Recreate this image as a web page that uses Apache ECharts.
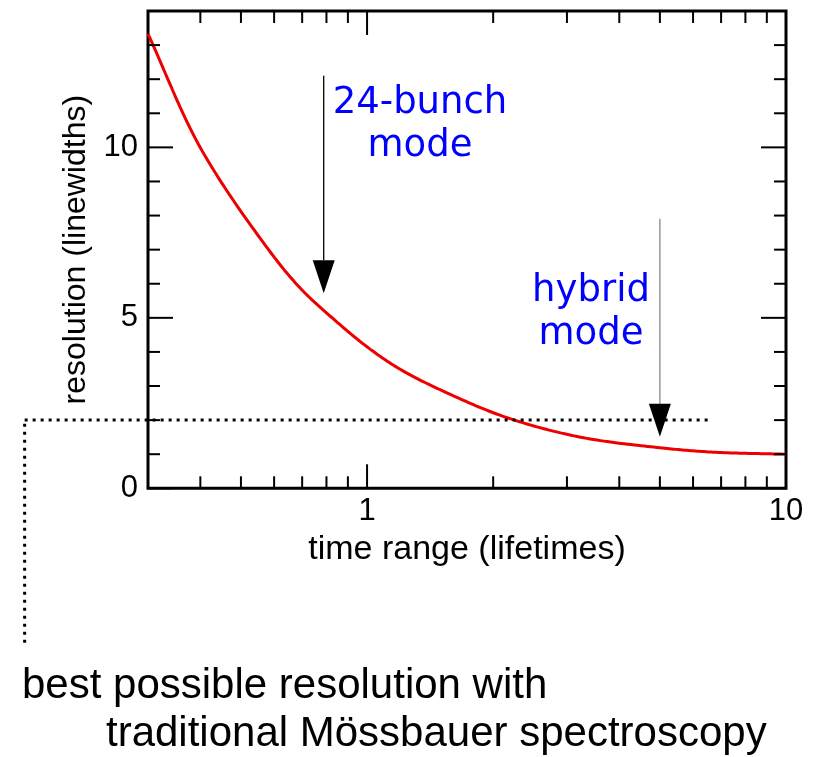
<!DOCTYPE html>
<html>
<head>
<meta charset="utf-8">
<script src="https://cdn.jsdelivr.net/npm/echarts@6/dist/echarts.min.js"></script>
<style>
html,body{margin:0;padding:0;background:#fff;}
#c{width:824px;height:757px;}
</style>
</head>
<body>
<div id="c"></div>
<script>
// ---- data ----
const timeRange = [0.3, 0.4, 0.577, 0.694, 0.8325, 1.0, 1.2, 1.55, 2.16, 3.23, 5.0, 6.7, 10];
const resolution = [13.33, 9.99, 7.06, 5.86, 4.96, 4.15, 3.49, 2.80, 2.07, 1.50, 1.19, 1.06, 1.0];
const bestLevelX = [0.1523, 0.1523, 6.52];
const bestLevelY = [-4.53, 2, 2];
const arrowX = [0.788, 5.0];
const arrowTop = [12.1, 7.91];
const arrowTip = [5.72, 1.51];
const xMajorTicks = [1, 10];
const xMinorTicks = [0.4, 0.5, 0.6, 0.7, 0.8, 0.9, 2, 3, 4, 5, 6, 7, 8, 9];
const yMajorTicks = [0, 5, 10];
const yMinorTicks = [1, 2, 3, 4, 6, 7, 8, 9, 11, 12, 13];
const X_MIN = 0.3, X_MAX = 10, Y_MIN = 0, Y_MAX = 14;

// ---- chart ----
const chart = echarts.init(document.getElementById('c'), null, {renderer: 'canvas'});

function xTickSeries(vals, len) {
  return {
    type: 'custom', silent: true, z: 5,
    data: vals.map(v => [v, Y_MIN]),
    encode: {x: 0, y: 1},
    renderItem: function (params, api) {
      const x = api.value(0);
      const pb = api.coord([x, Y_MIN]);
      const pt = api.coord([x, Y_MAX]);
      return {type: 'group', children: [
        {type: 'line', shape: {x1: pb[0], y1: pb[1], x2: pb[0], y2: pb[1] - len}, style: {stroke: '#000', lineWidth: 2}},
        {type: 'line', shape: {x1: pt[0], y1: pt[1], x2: pt[0], y2: pt[1] + len}, style: {stroke: '#000', lineWidth: 2}}
      ]};
    }
  };
}
function yTickSeries(vals, len) {
  return {
    type: 'custom', silent: true, z: 5,
    data: vals.map(v => [X_MIN, v]),
    encode: {x: 0, y: 1},
    renderItem: function (params, api) {
      const y = api.value(1);
      const pl = api.coord([X_MIN, y]);
      const pr = api.coord([X_MAX, y]);
      return {type: 'group', children: [
        {type: 'line', shape: {x1: pl[0], y1: pl[1], x2: pl[0] + len, y2: pl[1]}, style: {stroke: '#000', lineWidth: 2}},
        {type: 'line', shape: {x1: pr[0], y1: pr[1], x2: pr[0] - len, y2: pr[1]}, style: {stroke: '#000', lineWidth: 2}}
      ]};
    }
  };
}

// centripetal Catmull-Rom through pixel points (smooth curve without kinks)
function catmullRom(pts, steps) {
  const P = [[2 * pts[0][0] - pts[1][0], 2 * pts[0][1] - pts[1][1]]].concat(pts,
    [[2 * pts[pts.length - 1][0] - pts[pts.length - 2][0], 2 * pts[pts.length - 1][1] - pts[pts.length - 2][1]]]);
  const out = [];
  const d = (a, b) => Math.pow(Math.hypot(b[0] - a[0], b[1] - a[1]), 0.5) || 1e-6;
  const lerp = (a, b, ta, tb, t) => [(tb - t) / (tb - ta) * a[0] + (t - ta) / (tb - ta) * b[0], (tb - t) / (tb - ta) * a[1] + (t - ta) / (tb - ta) * b[1]];
  for (let i = 1; i < P.length - 2; i++) {
    const p0 = P[i - 1], p1 = P[i], p2 = P[i + 1], p3 = P[i + 2];
    const t0 = 0, t1 = t0 + d(p0, p1), t2 = t1 + d(p1, p2), t3 = t2 + d(p2, p3);
    for (let s = 0; s < steps; s++) {
      const t = t1 + (t2 - t1) * s / steps;
      const A1 = lerp(p0, p1, t0, t1, t), A2 = lerp(p1, p2, t1, t2, t), A3 = lerp(p2, p3, t2, t3, t);
      const B1 = lerp(A1, A2, t0, t2, t), B2 = lerp(A2, A3, t1, t3, t);
      out.push(lerp(B1, B2, t1, t2, t));
    }
  }
  out.push(pts[pts.length - 1]);
  return out;
}

const curveData = timeRange.map((x, i) => [x, resolution[i]]);
const arrowColors = ['#000000', '#888888'];
const arrowData = arrowX.map((x, i) => [x, arrowTop[i], arrowTip[i]]);
const bestData = bestLevelX.map((x, i) => [x, bestLevelY[i]]);

const option = {
  backgroundColor: '#ffffff',
  animation: false,
  grid: {left: 148, right: 38, top: 11, bottom: 268.7, show: true, borderColor: '#000', borderWidth: 3, backgroundColor: 'transparent'},
  xAxis: {
    type: 'log', logBase: 10, min: X_MIN, max: X_MAX,
    axisLine: {show: false}, axisTick: {show: false}, splitLine: {show: false}, minorTick: {show: false},
    axisLabel: {
      color: '#000', fontFamily: 'Liberation Sans', fontSize: 31, margin: 8,
      showMinLabel: true, showMaxLabel: true,
      formatter: function (v) {
        for (const t of xMajorTicks) { if (Math.abs(v - t) < 1e-6 * t) return String(t); }
        return '';
      }
    },
    name: 'time range (lifetimes)', nameLocation: 'middle', nameGap: 36,
    nameTextStyle: {color: '#000', fontFamily: 'Liberation Sans', fontSize: 34}
  },
  yAxis: {
    type: 'value', min: Y_MIN, max: Y_MAX, interval: 5,
    axisLine: {show: false}, axisTick: {show: false}, splitLine: {show: false},
    axisLabel: {
      color: '#000', fontFamily: 'Liberation Sans', fontSize: 31, margin: 10,
      formatter: function (v) { return yMajorTicks.indexOf(v) >= 0 ? String(v) : ''; }
    },
    name: 'resolution (linewidths)', nameLocation: 'middle', nameGap: 55,
    nameTextStyle: {color: '#000', fontFamily: 'Liberation Sans', fontSize: 32}
  },
  series: [
    xTickSeries(xMajorTicks, 24),
    xTickSeries(xMinorTicks, 12),
    yTickSeries(yMajorTicks, 25),
    yTickSeries(yMinorTicks, 12),
    {
      type: 'custom', name: 'resolution', z: 3, silent: true,
      data: curveData,
      encode: {x: 0, y: 1},
      renderItem: function (params, api) {
        if (params.dataIndex !== 0) return null;
        const pts = curveData.map(p => api.coord(p));
        return {
          type: 'polyline',
          shape: {points: catmullRom(pts, 24)},
          style: {stroke: '#ee0000', lineWidth: 3, fill: null, lineJoin: 'round'}
        };
      }
    },
    {
      // dotted "best possible" level; extends beyond the plot, so it is
      // placed with the axes' own scale (log x, linear y) extrapolated past the frame
      type: 'custom', name: 'best', z: 4, clip: false, silent: true,
      data: bestData,
      encode: {x: 0, y: 1},
      renderItem: function (params, api) {
        const i = params.dataIndex;
        if (i >= bestData.length - 1) return null;
        const a = api.coord([X_MIN, Y_MIN]);
        const b = api.coord([X_MAX, Y_MAX]);
        const l0 = Math.log10(X_MIN), l1 = Math.log10(X_MAX);
        const px = x => a[0] + (Math.log10(x) - l0) / (l1 - l0) * (b[0] - a[0]);
        const py = y => a[1] + (y - Y_MIN) / (Y_MAX - Y_MIN) * (b[1] - a[1]);
        const p = bestData[i], q = bestData[i + 1];
        return {
          type: 'line',
          shape: {x1: px(p[0]), y1: py(p[1]), x2: px(q[0]), y2: py(q[1])},
          style: {stroke: '#000', lineWidth: 3, lineDash: [3, 5], lineCap: 'butt'}
        };
      }
    },
    {
      type: 'custom', z: 6, silent: true,
      data: arrowData,
      encode: {x: 0, y: [1, 2]},
      renderItem: function (params, api) {
        const x = api.value(0);
        const p1 = api.coord([x, api.value(1)]);
        const p2 = api.coord([x, api.value(2)]);
        const hl = 33, hw = 11;
        const col = arrowColors[params.dataIndex];
        return {type: 'group', children: [
          {type: 'line', shape: {x1: p1[0], y1: p1[1], x2: p2[0], y2: p2[1] - hl}, style: {stroke: col, lineWidth: 1.3}},
          {type: 'polygon', shape: {points: [[p2[0] - hw, p2[1] - hl], [p2[0] + hw, p2[1] - hl], [p2[0], p2[1]]]}, style: {fill: '#000'}}
        ]};
      }
    }
  ],
  graphic: [
    {type: 'text', x: 420, y: 82, z: 10, style: {text: '24-bunch\nmode', font: '37px "DejaVu Sans"', fill: '#0000ff', align: 'center', verticalAlign: 'top', lineHeight: 43}},
    {type: 'text', x: 591, y: 270, z: 10, style: {text: 'hybrid\nmode', font: '37px "DejaVu Sans"', fill: '#0000ff', align: 'center', verticalAlign: 'top', lineHeight: 43}},
    {type: 'text', x: 22, y: 686, z: 10, style: {text: 'best possible resolution with', font: '42px "Liberation Sans"', fill: '#000', align: 'left', verticalAlign: 'middle'}},
    {type: 'text', x: 106, y: 734, z: 10, style: {text: 'traditional Mössbauer spectroscopy', font: '42px "Liberation Sans"', fill: '#000', align: 'left', verticalAlign: 'middle'}}
  ]
};
chart.setOption(option);
</script>
</body>
</html>
